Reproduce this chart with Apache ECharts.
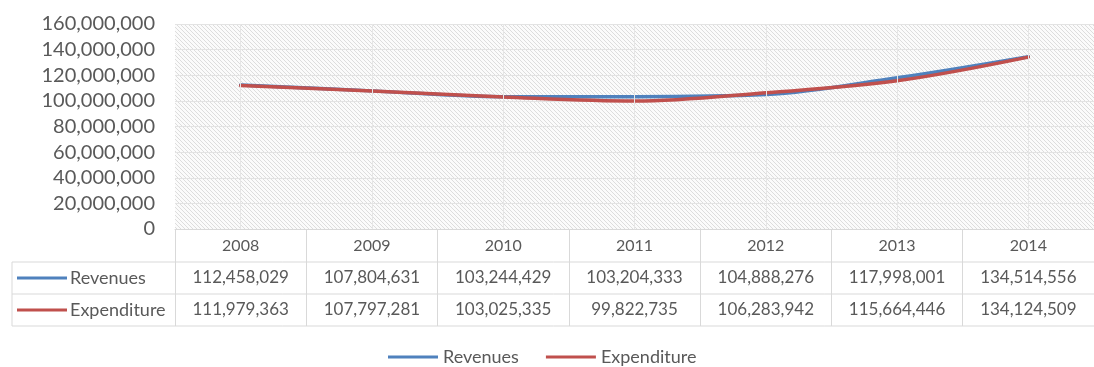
<!DOCTYPE html>
<html>
<head>
<meta charset="utf-8">
<script src="https://cdn.jsdelivr.net/npm/echarts@6/dist/echarts.min.js"></script>
<style>
  html, body { margin: 0; padding: 0; background: #fff; }
  #chart { width: 1094px; height: 367px; }
</style>
</head>
<body>
<div id="chart"></div>
<script>
// Yearly revenues and expenditure
const years = ['2008', '2009', '2010', '2011', '2012', '2013', '2014'];
const revenues = [112458029, 107804631, 103244429, 103204333, 104888276, 117998001, 134514556];
const expenditure = [111979363, 107797281, 103025335, 99822735, 106283942, 115664446, 134124509];
const seriesNames = ['Revenues', 'Expenditure'];
const yTicks = { min: 0, max: 160000000, interval: 20000000 };

const BLUE = '#4F81BD';
const RED = '#C0504D';
const TEXT = '#595959';
const RULE = '#d9d9d9';
const FONT = 'Lato';

const fmt = v => Math.round(v).toLocaleString('en-US');

// Diagonal hatch used as the plot-area fill
function hatch() {
  const c = document.createElement('canvas');
  c.width = 4; c.height = 4;
  const g = c.getContext('2d');
  g.fillStyle = '#fbfbfb';
  g.fillRect(0, 0, 4, 4);
  g.strokeStyle = '#dddddd';
  g.lineWidth = 1;
  g.beginPath();
  g.moveTo(-1, -1); g.lineTo(5, 5);
  g.moveTo(-1, 3); g.lineTo(1, 5);
  g.moveTo(3, -1); g.lineTo(5, 1);
  g.stroke();
  return c;
}

// layout
const GRID_TOP = 24, GRID_BOTTOM_Y = 229, GRID_LEFT = 175, GRID_RIGHT_X = 1105;
const ROW_H = 32;
const TABLE_LEFT = 12;
const row1Y = GRID_BOTTOM_Y + 33;        // header row bottom
const row2Y = row1Y + ROW_H;
const row3Y = row2Y + ROW_H;

const chart = echarts.init(document.getElementById('chart'));

const option = {
  animation: false,
  textStyle: { fontFamily: FONT },
  grid: {
    left: GRID_LEFT,
    right: 1094 - GRID_RIGHT_X,
    top: GRID_TOP,
    bottom: 367 - GRID_BOTTOM_Y,
    show: true,
    borderWidth: 0,
    backgroundColor: { image: hatch(), repeat: 'repeat' }
  },
  legend: {
    top: 343,
    left: 383,
    itemWidth: 50,
    itemHeight: 3,
    itemGap: 27,
    icon: 'rect',
    data: seriesNames,
    textStyle: { color: TEXT, fontSize: 18, fontFamily: FONT, padding: [0, 0, 0, 0] }
  },
  xAxis: {
    type: 'category',
    data: years,
    boundaryGap: true,
    axisLine: { show: true, lineStyle: { color: RULE, width: 1 } },
    axisTick: { show: true, length: row3Y - GRID_BOTTOM_Y, lineStyle: { color: RULE, width: 1 } },
    splitLine: { show: false },
    axisLabel: {
      margin: 0,
      interval: 0,
      formatter: (val, i) =>
        '{y|' + val + '}\n{v|' + fmt(revenues[i]) + '}\n{v|' + fmt(expenditure[i]) + '}',
      rich: {
        y: { fontSize: 16, color: TEXT, lineHeight: ROW_H + 1, fontFamily: FONT },
        v: { fontSize: 17, color: TEXT, lineHeight: ROW_H, fontFamily: FONT }
      }
    }
  },
  yAxis: {
    type: 'value',
    min: yTicks.min,
    max: yTicks.max,
    interval: yTicks.interval,
    axisLine: { show: false },
    axisTick: { show: false },
    splitLine: { show: true, lineStyle: { color: '#e3e3e3', width: 1 } },
    axisLabel: {
      color: TEXT,
      fontSize: 20,
      margin: 20,
      fontFamily: FONT,
      formatter: v => fmt(v)
    }
  },
  series: [
    {
      name: seriesNames[0],
      type: 'line',
      data: revenues,
      smooth: 0.35,
      symbol: 'none',
      lineStyle: { color: BLUE, width: 3.5, cap: 'round' },
      itemStyle: { color: BLUE },
      markLine: {
        silent: true,
        symbol: 'none',
        label: { show: false },
        lineStyle: { color: '#e6e6e6', width: 1, type: 'solid' },
        data: years.map(y => ({ xAxis: y }))
      },
      z: 3
    },
    {
      name: seriesNames[1],
      type: 'line',
      data: expenditure,
      smooth: 0.35,
      symbol: 'none',
      lineStyle: { color: RED, width: 3.5, cap: 'round' },
      itemStyle: { color: RED },
      z: 4
    }
  ],
  graphic: [
    // table rules
    { type: 'line', shape: { x1: TABLE_LEFT, y1: row1Y, x2: GRID_RIGHT_X, y2: row1Y }, style: { stroke: RULE, lineWidth: 1 }, silent: true },
    { type: 'line', shape: { x1: TABLE_LEFT, y1: row2Y, x2: GRID_RIGHT_X, y2: row2Y }, style: { stroke: RULE, lineWidth: 1 }, silent: true },
    { type: 'line', shape: { x1: TABLE_LEFT, y1: row3Y, x2: GRID_RIGHT_X, y2: row3Y }, style: { stroke: RULE, lineWidth: 1 }, silent: true },
    { type: 'line', shape: { x1: TABLE_LEFT, y1: row1Y, x2: TABLE_LEFT, y2: row3Y }, style: { stroke: RULE, lineWidth: 1 }, silent: true },
    // row headers with legend keys
    { type: 'line', shape: { x1: 17, y1: row1Y + ROW_H / 2, x2: 67, y2: row1Y + ROW_H / 2 }, style: { stroke: BLUE, lineWidth: 3 }, silent: true },
    { type: 'text', x: 70, y: row1Y + ROW_H / 2, style: { text: seriesNames[0], fill: TEXT, fontSize: 18, fontFamily: FONT, verticalAlign: 'middle', align: 'left' }, silent: true },
    { type: 'line', shape: { x1: 17, y1: row2Y + ROW_H / 2, x2: 67, y2: row2Y + ROW_H / 2 }, style: { stroke: RED, lineWidth: 3 }, silent: true },
    { type: 'text', x: 70, y: row2Y + ROW_H / 2, style: { text: seriesNames[1], fill: TEXT, fontSize: 18, fontFamily: FONT, verticalAlign: 'middle', align: 'left' }, silent: true }
  ]
};

chart.setOption(option);
</script>
</body>
</html>
